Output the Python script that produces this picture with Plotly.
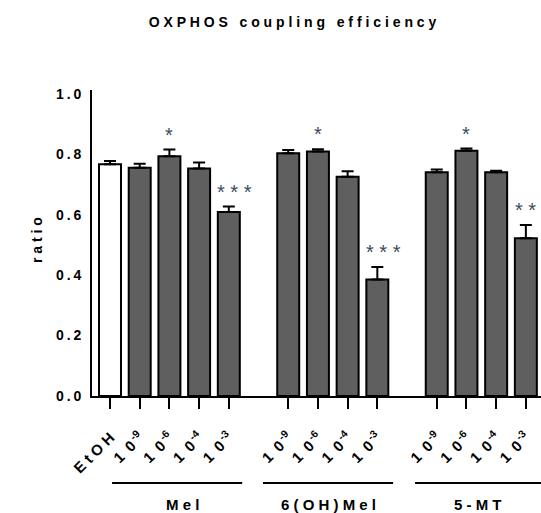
import plotly.graph_objects as go

# ---- data ----
bar_ids = ["EtOH", "Mel_-9", "Mel_-6", "Mel_-4", "Mel_-3",
           "OH_-9", "OH_-6", "OH_-4", "OH_-3",
           "MT_-9", "MT_-6", "MT_-4", "MT_-3"]
category_order = ["EtOH", "Mel_-9", "Mel_-6", "Mel_-4", "Mel_-3", "gap1",
                  "OH_-9", "OH_-6", "OH_-4", "OH_-3", "gap2",
                  "MT_-9", "MT_-6", "MT_-4", "MT_-3"]
exponents = ["", "-9", "-6", "-4", "-3", "-9", "-6", "-4", "-3", "-9", "-6", "-4", "-3"]
means = [0.767, 0.756, 0.794, 0.753, 0.609,
         0.804, 0.809, 0.726, 0.386,
         0.741, 0.812, 0.741, 0.522]
sems = [0.011, 0.013, 0.022, 0.020, 0.018,
        0.010, 0.008, 0.018, 0.041,
        0.009, 0.007, 0.005, 0.044]
stars = ["", "", "*", "", "***", "", "*", "", "***", "", "*", "", "**"]
groups = ["Mel", "6(OH)Mel", "5-MT"]
group_spans = [(0.07, 4.45), (5.15, 9.53), (10.27, 14.7)]
group_label_x = [2.45, 7.35, 12.4]
yticks = [0.0, 0.2, 0.4, 0.6, 0.8, 1.0]

FONT = "Liberation Sans, Arial, sans-serif"
SP = "\u2009"
EN = "\u2002"

def spaced(s, gap=" "):
    return gap.join(list(s))

tick_text = []
for bid, e in zip(bar_ids, exponents):
    if e == "":
        tick_text.append(spaced(bid))
    else:
        tick_text.append("1" + EN + "0<sup>" + SP + e + "</sup>")

colors = ["white" if b == "EtOH" else "#5f5f5f" for b in bar_ids]

fig = go.Figure()
fig.add_trace(go.Bar(
    x=bar_ids, y=means, width=0.74,
    marker=dict(color=colors, line=dict(color="black", width=2)),
    error_y=dict(type="data", symmetric=False, array=sems,
                 arrayminus=[0] * len(sems), color="black",
                 thickness=2, width=6),
    showlegend=False, hoverinfo="skip",
))

annotations = []
for bid, m, s, st in zip(bar_ids, means, sems, stars):
    if st:
        annotations.append(dict(
            x=bid, y=m + s, xref="x", yref="y",
            text=(" ".join(list(st))), showarrow=False,
            yanchor="middle", yshift=15, xshift=(6 if len(st) == 3 else 0),
            font=dict(family=FONT, size=20, color="#3c4b5c", weight="normal"),
        ))

shapes = []
for (x0, x1), g, gx in zip(group_spans, groups, group_label_x):
    shapes.append(dict(type="line", xref="x", yref="paper",
                       x0=x0, x1=x1, y0=-0.2843, y1=-0.2843,
                       line=dict(color="black", width=2)))
    annotations.append(dict(x=gx, y=-0.356, xref="x", yref="paper",
                            text=spaced(g), showarrow=False, yanchor="middle",
                            font=dict(family=FONT, size=15, color="black", weight="bold")))

# y title
annotations.append(dict(
    x=(37 - 92) / 449, y=(396 - 240) / 306, xref="paper", yref="paper",
    text=spaced("ratio"), textangle=-90, showarrow=False,
    xanchor="center", yanchor="middle",
    font=dict(family=FONT, size=14, color="black", weight="bold")))

fig.update_layout(
    width=541, height=513,
    margin=dict(l=92, r=0, t=90, b=117, autoexpand=False),
    paper_bgcolor="white", plot_bgcolor="white",
    font=dict(family=FONT, size=14, color="black", weight="bold"),
    title=dict(text="O X P H O S   c o u p l i n g   e f f i c i e n c y",
               x=292.5 / 541, xanchor="center", y=1 - 22 / 513,
               yanchor="middle", xref="container", yref="container",
               font=dict(family=FONT, size=14, color="black", weight="bold")),
    annotations=annotations,
    shapes=shapes,
)

fig.update_xaxes(
    type="category", categoryorder="array", categoryarray=category_order,
    tickvals=bar_ids, ticktext=tick_text, tickangle=-45,
    range=[-0.606, 14.51], automargin=False,
    showline=True, linecolor="black", linewidth=2,
    ticks="outside", ticklen=11, tickwidth=2, tickcolor="black",
    showgrid=False, zeroline=False, ticklabelstandoff=14,
    tickfont=dict(family=FONT, size=15, color="black", weight="bold"),
)
fig.update_yaxes(
    range=[0, 1.013], tickvals=yticks, automargin=False,
    ticktext=[SP.join(list(f"{v:.1f}")) for v in yticks],
    showline=True, linecolor="black", linewidth=2,
    ticks="", showgrid=False, zeroline=False,
    ticklabelstandoff=6,
    tickfont=dict(family=FONT, size=14, color="black", weight="bold"),
)

fig.write_html(
    "out.html",
    config={"displayModeBar": False},
    post_script="document.body.style.margin='0';document.body.style.overflow='hidden';",
)
